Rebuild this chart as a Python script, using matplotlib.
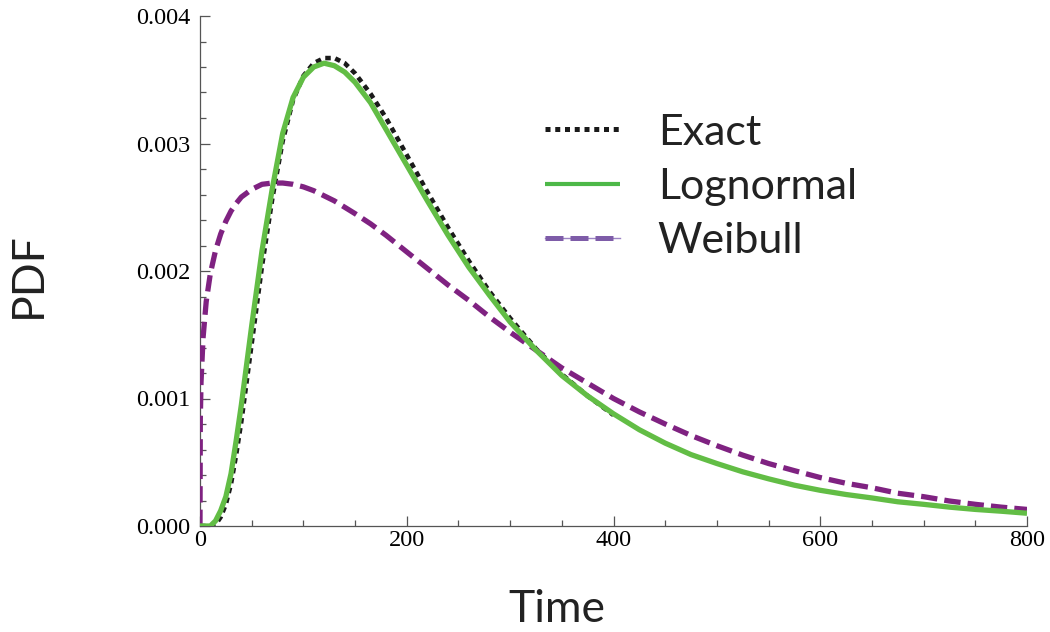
import matplotlib
matplotlib.use('Agg')
import matplotlib.pyplot as plt
from matplotlib.lines import Line2D
from matplotlib.ticker import MultipleLocator, FormatStrFormatter

# time grid (same for all curves, exact stops at 400)
t = [0, 0.3, 1, 3, 6, 10, 15, 20, 25, 30, 35, 40, 50, 60, 70, 80, 90, 100,
     110, 120, 130, 140, 150, 165, 180, 200, 220, 240, 260, 280, 300, 325,
     350, 375, 400, 425, 450, 475, 500, 525, 550, 575, 600, 625, 650, 675,
     700, 725, 750, 775, 800]

exact = [0, 0, 0, 0, 0, 0, 0.00001, 0.00007, 0.00017, 0.00033, 0.00056, 0.00082,
         0.00143, 0.00204, 0.00257, 0.00302, 0.00334, 0.00353, 0.00363, 0.00367,
         0.00367, 0.00363, 0.00355, 0.00339, 0.00320, 0.00291, 0.00262, 0.00234,
         0.00208, 0.00184, 0.00163, 0.00139, 0.00119, 0.00102, 0.00087]

lognormal = [0, 0, 0, 0, 0, 0, 0.00004, 0.00012, 0.00023, 0.00041, 0.00067, 0.00095,
             0.00157, 0.00216, 0.00265, 0.00308, 0.00336, 0.00352, 0.00360, 0.00363,
             0.00361, 0.00356, 0.00348, 0.00332, 0.00311, 0.00283, 0.00255, 0.00228,
             0.00203, 0.00181, 0.00160, 0.00138, 0.00118, 0.00102, 0.00088, 0.000755,
             0.00065, 0.00056, 0.00049, 0.000425, 0.00037, 0.00032, 0.00028, 0.000247,
             0.00022, 0.00019, 0.00017, 0.000148, 0.00013, 0.000116, 0.00010]

weibull = [0, 0.00084, 0.00113, 0.00148, 0.00176, 0.00198, 0.00216, 0.00229, 0.00239,
           0.00247, 0.00253, 0.00258, 0.00264, 0.00268, 0.00269, 0.00269, 0.00268,
           0.00266, 0.00263, 0.00259, 0.00255, 0.00250, 0.00245, 0.00237, 0.00228,
           0.00215, 0.00202, 0.00189, 0.00177, 0.00164, 0.00152, 0.00138, 0.00124,
           0.00112, 0.00100, 0.000895, 0.00080, 0.00071, 0.00063, 0.000556, 0.00049,
           0.000434, 0.00038, 0.000335, 0.00030, 0.000257, 0.00023, 0.000196, 0.00017,
           0.000148, 0.00013]

labels = ['Exact', 'Lognormal', 'Weibull']

green = '#62bd45'
purple = '#7f2281'

fig = plt.figure(figsize=(10.5, 6.32), dpi=100)
ax = fig.add_axes([200/1050, 1 - 526/632, 827/1050, 510/632])

ax.plot(t[:len(exact)], exact, color='#1a1a1a', lw=3.3, dashes=(1.2, 1.0),
        dash_capstyle='butt', zorder=2)
ax.plot(t, weibull, color=purple, lw=3.8, dashes=(3.1, 1.35), dash_capstyle='butt', zorder=3)
ax.plot(t, lognormal, color=green, lw=3.8, solid_capstyle='butt', zorder=4)

ax.set_xlim(0, 800)
ax.set_ylim(0, 0.004)
for s in ['top', 'right']:
    ax.spines[s].set_visible(False)
for s in ['left', 'bottom']:
    ax.spines[s].set_color('#555555')
    ax.spines[s].set_linewidth(0.9)

ax.xaxis.set_major_locator(MultipleLocator(200))
ax.xaxis.set_minor_locator(MultipleLocator(50))
ax.yaxis.set_major_locator(MultipleLocator(0.001))
ax.yaxis.set_minor_locator(MultipleLocator(0.0002))
ax.yaxis.set_major_formatter(FormatStrFormatter('%.3f'))
ax.tick_params(which='both', direction='in', color='#555555', width=0.9)
ax.tick_params(which='major', length=7)
ax.tick_params(which='minor', length=4.3)
ax.tick_params(axis='x', pad=3)
ax.tick_params(axis='y', pad=7)
for lab in ax.get_xticklabels() + ax.get_yticklabels():
    lab.set_fontfamily('Liberation Serif')
    lab.set_fontsize(17.5)

fig.text(557/1050, 1 - 609/632, 'Time', fontsize=32, family='Lato',
         ha='center', va='center', color='#222222')
fig.text(28/1050, 1 - 275/632, 'PDF', fontsize=32, family='Lato', rotation=90,
         ha='center', va='center', color='#222222')

# legend handles drawn thinner / lighter than the curves, like the original
h_exact = Line2D([], [], color='#1a1a1a', lw=3.6, dashes=(1.0, 0.95), dash_capstyle='butt')
h_logn = Line2D([], [], color='#4db848', lw=3.0, solid_capstyle='butt')
h_weib_thin = Line2D([], [], color='#9c84c4', lw=1.0)
h_weib = Line2D([], [], color='#7e5ca8', lw=3.6, dashes=(3.6, 1.4), dash_capstyle='butt')
leg = ax.legend([h_exact, h_logn, (h_weib_thin, h_weib)], labels,
                loc='upper left', bbox_to_anchor=(523/1050, 1 - 92/632),
                bbox_transform=fig.transFigure, frameon=False, borderpad=0,
                prop={'family': 'Lato', 'size': 31}, handlelength=1.75,
                handletextpad=0.88, labelspacing=0.38)
for txt in leg.get_texts():
    txt.set_color('#222222')

fig.savefig('out.png', dpi=100)
